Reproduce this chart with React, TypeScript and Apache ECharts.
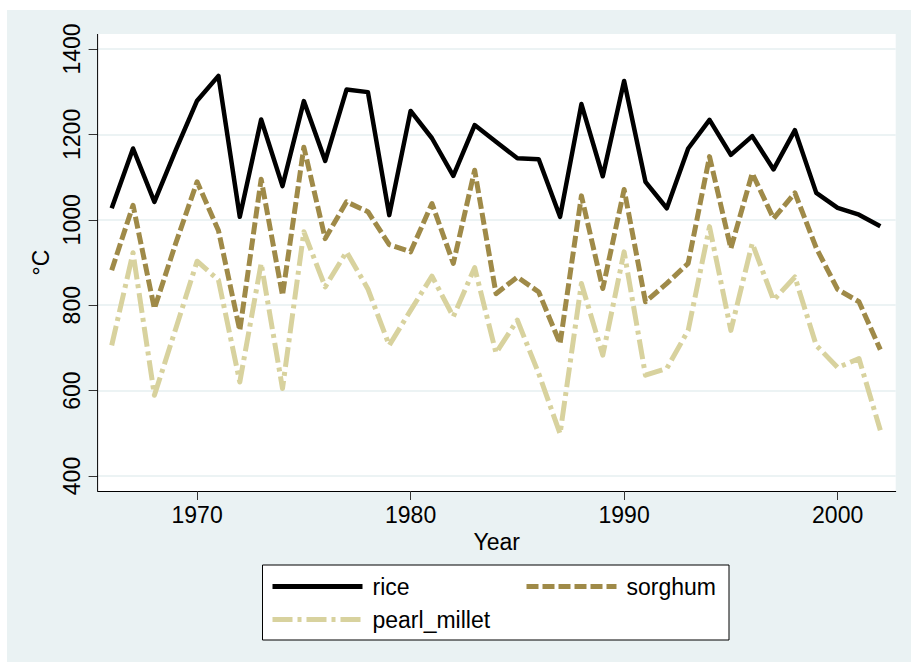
import React, { useEffect, useRef } from "react";
import * as echarts from "echarts";

const years = [
  1966, 1967, 1968, 1969, 1970, 1971, 1972, 1973, 1974, 1975, 1976, 1977, 1978,
  1979, 1980, 1981, 1982, 1983, 1984, 1985, 1986, 1987, 1988, 1989, 1990, 1991,
  1992, 1993, 1994, 1995, 1996, 1997, 1998, 1999, 2000, 2001, 2002,
];
const rice = [
  1027, 1167, 1042, 1163, 1279, 1337, 1007, 1235, 1079, 1278, 1138, 1305, 1299,
  1011, 1255, 1191, 1103, 1222, 1183, 1144, 1142, 1007, 1271, 1102, 1325, 1089,
  1027, 1167, 1234, 1152, 1196, 1118, 1210, 1063, 1028, 1012, 985,
];
const sorghum = [
  882, 1034, 792, 945, 1089, 975, 741, 1095, 823, 1170, 956, 1042, 1019,
  942, 925, 1038, 898, 1116, 827, 866, 831, 710, 1056, 839, 1071, 808,
  851, 898, 1148, 933, 1109, 1003, 1063, 934, 837, 808, 696,
];
const pearlMillet = [
  706, 923, 589, 745, 903, 859, 620, 898, 605, 972, 843, 925, 838,
  706, 788, 868, 773, 888, 688, 765, 640, 499, 851, 683, 925, 636,
  652, 741, 984, 741, 945, 812, 866, 706, 654, 675, 507,
];
const xTicks = [1970, 1980, 1990, 2000];
const seriesNames = ["rice", "sorghum", "pearl_millet"];

const FONT = "'Liberation Sans', Arial, sans-serif";

export default function App() {
  const ref = useRef<HTMLDivElement>(null);
  useEffect(() => {
    if (!ref.current) return;
    const chart = echarts.init(ref.current, null, { renderer: "svg" });
    const pairs = (vals: number[]) => years.map((y, i) => [y, vals[i]]);
    const plotL = 97.6, plotR = 895.7, plotT = 34, plotB = 491;
    const legendText = { fontSize: 23, fontFamily: FONT, color: "#000", padding: [0, 0, 0, 5] };
    const legendCommon = {
      padding: 0, itemWidth: 90, itemHeight: 24, textStyle: legendText, z: 10,
      itemStyle: { opacity: 0 },
      lineStyle: { width: 5, cap: "butt" },
    };
    chart.setOption({
      animation: false,
      backgroundColor: "#ffffff",
      textStyle: { fontFamily: FONT },
      grid: { left: plotL, right: 911 - plotR, top: 49, bottom: 662 - 476, containLabel: false },
      graphic: [
        { type: "rect", z: -20, shape: { x: 7, y: 10, width: 904, height: 652 }, style: { fill: "#EAF2F3" } },
        { type: "rect", z: -10, shape: { x: plotL, y: plotT, width: plotR - plotL, height: plotB - plotT }, style: { fill: "#ffffff" } },
        { type: "line", z: 50, shape: { x1: plotL, y1: plotT, x2: plotL, y2: plotB }, style: { stroke: "#000", lineWidth: 1 } },
        { type: "rect", z: 5, shape: { x: 262.5, y: 565, width: 466.5, height: 75 }, style: { fill: "#ffffff", stroke: "#000", lineWidth: 1 } },
      ],
      xAxis: {
        type: "value",
        min: 1965.34,
        max: 2002.72,
        offset: 15,
        name: "Year",
        nameLocation: "middle",
        nameGap: 31,
        nameTextStyle: { fontSize: 23, color: "#000", fontFamily: FONT },
        axisLine: { show: true, lineStyle: { color: "#000", width: 1 } },
        axisTick: { show: true, length: 9, customValues: xTicks, lineStyle: { color: "#333" } },
        axisLabel: { customValues: xTicks, fontSize: 23, color: "#000", margin: 12, fontFamily: FONT, formatter: (v: number) => String(v) },
        splitLine: { show: false },
      },
      yAxis: {
        type: "value",
        min: 400,
        max: 1400,
        interval: 200,
        name: "°C",
        nameLocation: "middle",
        nameRotate: 90,
        nameGap: 38,
        nameTextStyle: { fontSize: 23, color: "#000", fontFamily: FONT },
        axisLine: { show: false },
        axisTick: { show: true, length: 9, lineStyle: { color: "#333" } },
        axisLabel: { rotate: 90, fontSize: 23, color: "#000", margin: 14, fontFamily: FONT, formatter: (v: number) => String(v) },
        splitLine: { show: true, lineStyle: { color: "#E6EFF1", width: 1.5 } },
      },
      legend: [
        { ...legendCommon, data: [seriesNames[0]], left: 270, top: 575 },
        { ...legendCommon, data: [seriesNames[1]], left: 524, top: 575 },
        { ...legendCommon, data: [seriesNames[2]], left: 270, top: 608 },
      ],
      series: [
        {
          name: seriesNames[0], type: "line", data: pairs(rice), symbol: "none", z: 4,
          itemStyle: { color: "#000000" },
          lineStyle: { color: "#000000", width: 4.5, type: "solid", join: "round" },
        },
        {
          name: seriesNames[1], type: "line", data: pairs(sorghum), symbol: "none", z: 3,
          itemStyle: { color: "#9F8A48" },
          lineStyle: { color: "#9F8A48", width: 5, type: [12, 4], join: "round" },
        },
        {
          name: seriesNames[2], type: "line", data: pairs(pearlMillet), symbol: "none", z: 2,
          itemStyle: { color: "#D8D29E" },
          lineStyle: { color: "#D8D29E", width: 5, type: [20, 5, 4, 5], join: "round" },
        },
      ],
    });
    return () => chart.dispose();
  }, []);
  return <div ref={ref} style={{ width: 911, height: 662, position: "absolute", left: 0, top: 0 }} />;
}
